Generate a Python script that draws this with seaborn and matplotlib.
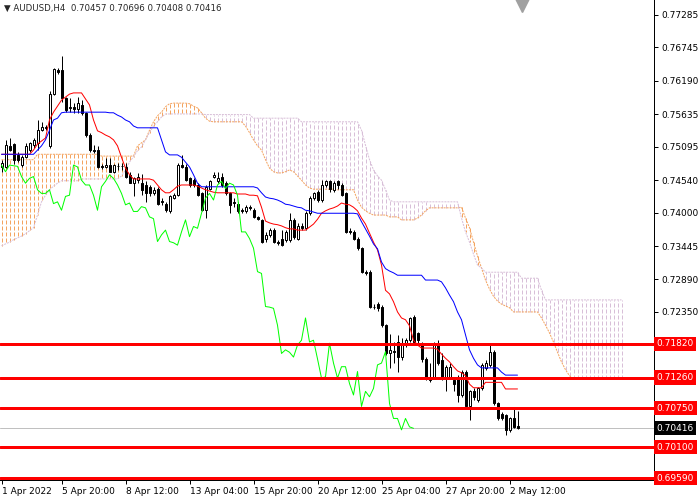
import numpy as np
import pandas as pd
import matplotlib
matplotlib.use("Agg")
import matplotlib.pyplot as plt
import seaborn as sns

sns.set_theme(style="white")
plt.rcParams['font.family'] = ['DejaVu Sans']

# AUDUSD H4 candles, 1 Apr 08:00 .. 2 May 20:00
opens = [
    0.7476, 0.7476, 0.7510, 0.7514, 0.7496, 0.7479, 0.7493, 0.7504, 0.7512, 0.7515,
    0.7537, 0.7540, 0.7510, 0.7598, 0.7637, 0.7637, 0.7590, 0.7574, 0.7576, 0.7573,
    0.7579, 0.7565, 0.7529, 0.7504, 0.7504, 0.7478, 0.7476, 0.7479, 0.7468, 0.7477,
    0.7478, 0.7476, 0.7462, 0.7449, 0.7455, 0.7449, 0.7446, 0.7443, 0.7432, 0.7440,
    0.7419, 0.7415, 0.7402, 0.7425, 0.7429, 0.7479, 0.7476, 0.7457, 0.7454, 0.7446,
    0.7432, 0.7404, 0.7440, 0.7460, 0.7452, 0.7460, 0.7449, 0.7432, 0.7418, 0.7415,
    0.7404, 0.7402, 0.7410, 0.7404, 0.7392, 0.7388, 0.7357, 0.7363, 0.7371, 0.7352,
    0.7357, 0.7355, 0.7355, 0.7388, 0.7357, 0.7377, 0.7374, 0.7399, 0.7424, 0.7435,
    0.7421, 0.7446, 0.7452, 0.7438, 0.7452, 0.7446, 0.7432, 0.7370, 0.7368, 0.7357,
    0.7341, 0.7302, 0.7302, 0.7244, 0.7249, 0.7243, 0.7213, 0.7166, 0.7170, 0.7185,
    0.7160, 0.7180, 0.7188, 0.7227, 0.7200, 0.7182, 0.7157, 0.7122, 0.7127, 0.7183,
    0.7155, 0.7125, 0.7127, 0.7122, 0.7125, 0.7097, 0.7136, 0.7078, 0.7103, 0.7089,
    0.7108, 0.7141, 0.7147, 0.7169, 0.7083, 0.7066, 0.7064, 0.7039, 0.7058, 0.70457,
]
highs = [
    0.7488, 0.7521, 0.7524, 0.7515, 0.7500, 0.7496, 0.7515, 0.7518, 0.7524, 0.7554,
    0.7551, 0.7546, 0.7602, 0.7640, 0.7640, 0.7660, 0.7592, 0.7590, 0.7582, 0.7593,
    0.7587, 0.7568, 0.7532, 0.7512, 0.7510, 0.7481, 0.7490, 0.7490, 0.7481, 0.7482,
    0.7482, 0.7482, 0.7468, 0.7460, 0.7466, 0.7465, 0.7452, 0.7446, 0.7443, 0.7443,
    0.7424, 0.7418, 0.7430, 0.7432, 0.7483, 0.7496, 0.7481, 0.7460, 0.7457, 0.7449,
    0.7435, 0.7446, 0.7455, 0.7468, 0.7468, 0.7466, 0.7452, 0.7435, 0.7424, 0.7418,
    0.7407, 0.7413, 0.7413, 0.7407, 0.7394, 0.7390, 0.7368, 0.7374, 0.7374, 0.7355,
    0.7371, 0.7371, 0.7399, 0.7391, 0.7382, 0.7382, 0.7402, 0.7427, 0.7435, 0.7438,
    0.7454, 0.7455, 0.7455, 0.7452, 0.7455, 0.7450, 0.7435, 0.7374, 0.7371, 0.7360,
    0.7343, 0.7305, 0.7304, 0.7249, 0.7252, 0.7246, 0.7215, 0.7199, 0.7185, 0.7197,
    0.7192, 0.7192, 0.7227, 0.7230, 0.7202, 0.7185, 0.7160, 0.7150, 0.7185, 0.7188,
    0.7166, 0.7147, 0.7150, 0.7127, 0.7130, 0.7139, 0.7139, 0.7105, 0.7108, 0.7111,
    0.7150, 0.7155, 0.7180, 0.7172, 0.7086, 0.7069, 0.7066, 0.7061, 0.7075, 0.70696,
]
lows = [
    0.7468, 0.7474, 0.7502, 0.7481, 0.7484, 0.7476, 0.7490, 0.7500, 0.7508, 0.7504,
    0.7535, 0.7537, 0.7508, 0.7596, 0.7630, 0.7584, 0.7567, 0.7568, 0.7565, 0.7565,
    0.7562, 0.7526, 0.7501, 0.7499, 0.7474, 0.7473, 0.7474, 0.7468, 0.7466, 0.7471,
    0.7471, 0.7457, 0.7449, 0.7427, 0.7449, 0.7429, 0.7418, 0.7427, 0.7429, 0.7413,
    0.7413, 0.7401, 0.7399, 0.7422, 0.7427, 0.7474, 0.7452, 0.7443, 0.7443, 0.7427,
    0.7402, 0.7391, 0.7438, 0.7457, 0.7449, 0.7443, 0.7429, 0.7399, 0.7410, 0.7399,
    0.7399, 0.7399, 0.7404, 0.7391, 0.7388, 0.7349, 0.7352, 0.7360, 0.7349, 0.7346,
    0.7344, 0.7352, 0.7352, 0.7357, 0.7355, 0.7371, 0.7371, 0.7396, 0.7421, 0.7418,
    0.7418, 0.7443, 0.7435, 0.7435, 0.7440, 0.7427, 0.7366, 0.7365, 0.7355, 0.7338,
    0.7299, 0.7296, 0.7241, 0.7240, 0.7236, 0.7210, 0.7163, 0.7141, 0.7150, 0.7135,
    0.7155, 0.7177, 0.7185, 0.7182, 0.7182, 0.7152, 0.7122, 0.7119, 0.7125, 0.7147,
    0.7122, 0.7103, 0.7125, 0.7103, 0.7086, 0.7094, 0.7075, 0.7055, 0.7089, 0.7086,
    0.7105, 0.7138, 0.7144, 0.7080, 0.7055, 0.7055, 0.7031, 0.7036, 0.7042, 0.70408,
]
closes = [
    0.7482, 0.7512, 0.7504, 0.7488, 0.7488, 0.7493, 0.7510, 0.7515, 0.7521, 0.7537,
    0.7543, 0.7543, 0.7598, 0.7638, 0.7634, 0.7590, 0.7571, 0.7576, 0.7573, 0.7582,
    0.7565, 0.7529, 0.7504, 0.7502, 0.7476, 0.7476, 0.7479, 0.7468, 0.7479, 0.7478,
    0.7477, 0.7460, 0.7449, 0.7457, 0.7460, 0.7438, 0.7432, 0.7432, 0.7438, 0.7415,
    0.7418, 0.7404, 0.7427, 0.7429, 0.7479, 0.7476, 0.7454, 0.7446, 0.7446, 0.7429,
    0.7404, 0.7443, 0.7452, 0.7463, 0.7457, 0.7446, 0.7432, 0.7413, 0.7416, 0.7402,
    0.7402, 0.7410, 0.7408, 0.7393, 0.7390, 0.7352, 0.7363, 0.7371, 0.7352, 0.7350,
    0.7346, 0.7368, 0.7388, 0.7360, 0.7377, 0.7374, 0.7399, 0.7424, 0.7432, 0.7421,
    0.7446, 0.7452, 0.7440, 0.7449, 0.7446, 0.7429, 0.7368, 0.7368, 0.7357, 0.7341,
    0.7302, 0.7299, 0.7244, 0.7243, 0.7241, 0.7213, 0.7166, 0.7172, 0.7168, 0.7160,
    0.7180, 0.7188, 0.7225, 0.7185, 0.7188, 0.7157, 0.7125, 0.7127, 0.7183, 0.7150,
    0.7125, 0.7144, 0.7144, 0.7116, 0.7097, 0.7136, 0.7078, 0.7103, 0.7094, 0.7108,
    0.7147, 0.7150, 0.7169, 0.7083, 0.7058, 0.7058, 0.7039, 0.7058, 0.7044, 0.70416,
]

# Ichimoku lines as drawn on the chart
tenkan = [
    0.7497, 0.7497, 0.7497, 0.7497, 0.7497, 0.7497, 0.7497, 0.7497, 0.7504, 0.7514,
    0.7519, 0.7524, 0.7554, 0.7567, 0.7577, 0.7587, 0.7592, 0.7597, 0.7599, 0.7599,
    0.7599, 0.7589, 0.7579, 0.7554, 0.7536, 0.7533, 0.7529, 0.7526, 0.7521, 0.7511,
    0.7492, 0.7474, 0.7463, 0.7456, 0.7456, 0.7456, 0.7456, 0.7456, 0.7454, 0.7446,
    0.7438, 0.7433, 0.7433, 0.7438, 0.7444, 0.7446, 0.7446, 0.7446, 0.7446, 0.7444,
    0.7441, 0.7438, 0.7436, 0.7434, 0.7433, 0.7433, 0.7433, 0.7433, 0.7433, 0.7431,
    0.7431, 0.7431, 0.7429, 0.7429, 0.7428, 0.7409, 0.7386, 0.7383, 0.7381, 0.7380,
    0.7378, 0.7375, 0.7373, 0.7373, 0.7371, 0.7371, 0.7371, 0.7376, 0.7381, 0.7389,
    0.7399, 0.7403, 0.7406, 0.7408, 0.7411, 0.7416, 0.7414, 0.7413, 0.7409, 0.7403,
    0.7391, 0.7381, 0.7366, 0.7351, 0.7338, 0.7313, 0.7271, 0.7265, 0.7252, 0.7235,
    0.7225, 0.7222, 0.7212, 0.7188, 0.7180, 0.7175, 0.7175, 0.7175, 0.7175, 0.7173,
    0.7165, 0.7158, 0.7152, 0.7144, 0.7137, 0.7134, 0.7129, 0.7115, 0.7109, 0.7109,
    0.7109, 0.7118, 0.7118, 0.7118, 0.7118, 0.7118, 0.7107, 0.7107, 0.7107, 0.7107,
]
kijun = [
    0.7497, 0.7497, 0.7497, 0.7497, 0.7497, 0.7497, 0.7497, 0.7497, 0.7497, 0.7504,
    0.7511, 0.7521, 0.7537, 0.7554, 0.7557, 0.7566, 0.7567, 0.7567, 0.7567, 0.7567,
    0.7567, 0.7567, 0.7567, 0.7567, 0.7567, 0.7567, 0.7567, 0.7566, 0.7566, 0.7562,
    0.7559, 0.7554, 0.7551, 0.7544, 0.7541, 0.7541, 0.7541, 0.7541, 0.7541, 0.7541,
    0.7521, 0.7501, 0.7496, 0.7496, 0.7496, 0.7492, 0.7484, 0.7476, 0.7463, 0.7449,
    0.7443, 0.7443, 0.7443, 0.7443, 0.7443, 0.7443, 0.7443, 0.7443, 0.7443, 0.7443,
    0.7443, 0.7443, 0.7443, 0.7443, 0.7441, 0.7433, 0.7426, 0.7424, 0.7423, 0.7421,
    0.7418, 0.7414, 0.7413, 0.7411, 0.7409, 0.7408, 0.7404, 0.7403, 0.7401, 0.7399,
    0.7399, 0.7399, 0.7399, 0.7399, 0.7399, 0.7399, 0.7399, 0.7399, 0.7399, 0.7398,
    0.7385, 0.7373, 0.7361, 0.7348, 0.7340, 0.7318, 0.7307, 0.7303, 0.7300, 0.7296,
    0.7296, 0.7296, 0.7296, 0.7296, 0.7296, 0.7296, 0.7288, 0.7288, 0.7288, 0.7288,
    0.7285, 0.7275, 0.7263, 0.7252, 0.7235, 0.7222, 0.7197, 0.7172, 0.7158, 0.7147,
    0.7142, 0.7142, 0.7142, 0.7142, 0.7142, 0.7135, 0.7130, 0.7130, 0.7130, 0.7130,
]
# cloud, already shifted 26 bars ahead (156 bars)
span_a = [
    0.7488, 0.7488, 0.7488, 0.7488, 0.7488, 0.7488, 0.7488, 0.7488, 0.7488, 0.7497,
    0.7497, 0.7497, 0.7497, 0.7497, 0.7497, 0.7497, 0.7497, 0.7497, 0.7497, 0.7497,
    0.7497, 0.7497, 0.7497, 0.7497, 0.7497, 0.7494, 0.7494, 0.7494, 0.7494, 0.7494,
    0.7494, 0.7494, 0.7494, 0.7494, 0.7511, 0.7516, 0.7521, 0.7537, 0.7551, 0.7561,
    0.7567, 0.7576, 0.7581, 0.7582, 0.7582, 0.7582, 0.7582, 0.7581, 0.7577, 0.7574,
    0.7566, 0.7557, 0.7552, 0.7551, 0.7551, 0.7551, 0.7551, 0.7551, 0.7551, 0.7551,
    0.7551, 0.7544, 0.7533, 0.7521, 0.7511, 0.7504, 0.7488, 0.7474, 0.7468, 0.7466,
    0.7466, 0.7468, 0.7471, 0.7468, 0.7461, 0.7454, 0.7446, 0.7441, 0.7439, 0.7439,
    0.7439, 0.7439, 0.7439, 0.7439, 0.7438, 0.7438, 0.7438, 0.7438, 0.7438, 0.7421,
    0.7409, 0.7403, 0.7399, 0.7396, 0.7396, 0.7396, 0.7396, 0.7393, 0.7393, 0.7393,
    0.7388, 0.7388, 0.7388, 0.7388, 0.7391, 0.7396, 0.7403, 0.7408, 0.7408, 0.7408,
    0.7408, 0.7408, 0.7408, 0.7408, 0.7408, 0.7409, 0.7391, 0.7375, 0.7351, 0.7328,
    0.7308, 0.7288, 0.7273, 0.7261, 0.7253, 0.7248, 0.7245, 0.7242, 0.7235, 0.7235,
    0.7235, 0.7235, 0.7235, 0.7235, 0.7235, 0.7225, 0.7213, 0.7200, 0.7185, 0.7168,
    0.7152, 0.7139, 0.7129, 0.7124, 0.7124, 0.7124, 0.7124, 0.7124, 0.7124, 0.7124,
    0.7124, 0.7124, 0.7124, 0.7124, 0.7124, 0.7124,
]
span_b = [
    0.7345, 0.7348, 0.7351, 0.7355, 0.7358, 0.7361, 0.7365, 0.7370, 0.7375, 0.7396,
    0.7418, 0.7429, 0.7438, 0.7444, 0.7449, 0.7453, 0.7453, 0.7453, 0.7453, 0.7453,
    0.7456, 0.7456, 0.7456, 0.7456, 0.7456, 0.7456, 0.7456, 0.7456, 0.7456, 0.7456,
    0.7461, 0.7471, 0.7484, 0.7493, 0.7503, 0.7509, 0.7521, 0.7533, 0.7544, 0.7551,
    0.7559, 0.7564, 0.7564, 0.7564, 0.7564, 0.7564, 0.7564, 0.7564, 0.7564, 0.7564,
    0.7564, 0.7563, 0.7563, 0.7563, 0.7563, 0.7563, 0.7563, 0.7563, 0.7563, 0.7563,
    0.7563, 0.7563, 0.7563, 0.7557, 0.7557, 0.7557, 0.7557, 0.7557, 0.7557, 0.7557,
    0.7557, 0.7557, 0.7557, 0.7557, 0.7557, 0.7551, 0.7551, 0.7551, 0.7551, 0.7551,
    0.7551, 0.7551, 0.7551, 0.7551, 0.7551, 0.7551, 0.7551, 0.7551, 0.7551, 0.7551,
    0.7537, 0.7512, 0.7488, 0.7471, 0.7461, 0.7454, 0.7438, 0.7421, 0.7418, 0.7418,
    0.7418, 0.7418, 0.7418, 0.7418, 0.7418, 0.7418, 0.7418, 0.7418, 0.7418, 0.7418,
    0.7418, 0.7418, 0.7418, 0.7418, 0.7418, 0.7391, 0.7368, 0.7351, 0.7331, 0.7313,
    0.7308, 0.7301, 0.7301, 0.7301, 0.7301, 0.7301, 0.7301, 0.7301, 0.7301, 0.7301,
    0.7291, 0.7291, 0.7291, 0.7291, 0.7291, 0.7271, 0.7255, 0.7255, 0.7255, 0.7255,
    0.7255, 0.7255, 0.7255, 0.7255, 0.7255, 0.7255, 0.7255, 0.7255, 0.7255, 0.7255,
    0.7255, 0.7255, 0.7255, 0.7255, 0.7255, 0.7255,
]

levels = [0.71820, 0.71260, 0.70750, 0.70100, 0.69590]
price_ticks = [0.77285, 0.76745, 0.76190, 0.75635, 0.75095, 0.74540,
               0.74000, 0.73445, 0.72890, 0.72350]
time_labels = ["1 Apr 2022", "5 Apr 20:00", "8 Apr 12:00", "13 Apr 04:00",
               "15 Apr 20:00", "20 Apr 12:00", "25 Apr 04:00", "27 Apr 20:00",
               "2 May 12:00"]
time_bars = [0, 15, 31, 47, 63, 79, 95, 111, 127]
title = "\u25bc AUDUSD,H4  0.70457 0.70696 0.70408 0.70416"

df = pd.DataFrame({'open': opens, 'high': highs, 'low': lows, 'close': closes,
                   'tenkan': tenkan, 'kijun': kijun})
df['bar'] = np.arange(len(df))
cloud = pd.DataFrame({'a': span_a, 'b': span_b})
cloud['bar'] = np.arange(len(cloud))
chikou = pd.DataFrame({'bar': df['bar'][26:] - 26, 'close': df['close'][26:]})

PX = 0.72  # one pixel in points
ORANGE = '#F4A460'
PINK = '#D8BFD8'

fig = plt.figure(figsize=(7, 5), dpi=100)
ax = fig.add_axes([0, 20 / 500, 654 / 700, 480 / 500])
# 4 px per bar, bar centres on pixel centres
ax.set_xlim(-1.5 / 4, (654 - 1.5) / 4)
ax.set_ylim(0.69557, 0.77534)

# cloud hatch: one dashed vertical per bar, orange where span A is on top
up = cloud[cloud['a'] >= cloud['b']]
dn = cloud[cloud['a'] < cloud['b']]
ax.vlines(up['bar'].to_numpy(), up['a'].to_numpy(), up['b'].to_numpy(),
          colors=ORANGE, linewidth=PX, linestyles=(0, (4, 2)), zorder=1)
ax.vlines(dn['bar'].to_numpy(), dn['a'].to_numpy(), dn['b'].to_numpy(),
          colors=PINK, linewidth=PX, linestyles=(0, (4, 2)), zorder=1)
ax.plot(cloud['bar'], cloud['a'], color=ORANGE, lw=PX, ls=(0, (2, 1)), zorder=1.2)
ax.plot(cloud['bar'], cloud['b'], color=PINK, lw=PX, ls=(0, (2, 1)), zorder=1.2)

# current price line
ax.axhline(closes[-1], color='#C0C0C0', lw=PX, zorder=1.5)

# candles
ax.vlines(df['bar'], df['low'], df['high'], color='black', lw=PX, zorder=2)
bull = df['close'] >= df['open']
body_lo = df[['open', 'close']].min(axis=1)
body_h = (df['close'] - df['open']).abs()
ax.bar(df['bar'], body_h, bottom=body_lo, width=0.5,
       color=['white' if b else 'black' for b in bull], edgecolor='black',
       linewidth=PX, zorder=2.5)

# ichimoku lines
sns.lineplot(data=df, x='bar', y='tenkan', ax=ax, color='red', lw=PX, zorder=3)
sns.lineplot(data=df, x='bar', y='kijun', ax=ax, color='blue', lw=PX, zorder=3)
sns.lineplot(data=chikou, x='bar', y='close', ax=ax, color='#00FF00', lw=PX,
             zorder=3)

# horizontal levels
for lv in levels:
    ax.axhline(lv, color='red', lw=3 * PX, zorder=4)

# axes styling
for s in ['left', 'top']:
    ax.spines[s].set_visible(False)
for s in ['right', 'bottom']:
    ax.spines[s].set_color('black')
    ax.spines[s].set_linewidth(PX)
ax.yaxis.tick_right()
ax.set_yticks(price_ticks)
ax.set_yticklabels([f"{v:.5f}" for v in price_ticks])
ax.set_xticks(time_bars)
ax.set_xticklabels(time_labels, ha='left')
ax.tick_params(axis='both', length=3, width=PX, pad=2, labelsize=6.5,
               colors='black', direction='out')
ax.tick_params(axis='x', bottom=True)
ax.tick_params(axis='y', right=True)
ax.set_xlabel('')
ax.set_ylabel('')
ax.grid(False)

# level boxes on the price scale
ytr = ax.get_yaxis_transform()
for lv in levels:
    ax.text(1.004, lv, f"{lv:.5f}", transform=ytr, ha='left', va='center',
            fontsize=6.5, color='white', zorder=10, clip_on=False,
            bbox=dict(boxstyle='square,pad=0.28', fc='red', ec='none'))
ax.text(1.004, closes[-1], f"{closes[-1]:.5f}", transform=ytr, ha='left',
        va='center', fontsize=6.5, color='white', zorder=10, clip_on=False,
        bbox=dict(boxstyle='square,pad=0.28', fc='black', ec='none'))

# chart shift marker
ax.plot([130], [0.77534], marker='v', ms=17, color='#A0A0A0', clip_on=False,
        zorder=5)

fig.text(4 / 700, 1 - 8 / 500, title, fontsize=6.2, va='center', ha='left')

fig.savefig('out.png', dpi=100)
